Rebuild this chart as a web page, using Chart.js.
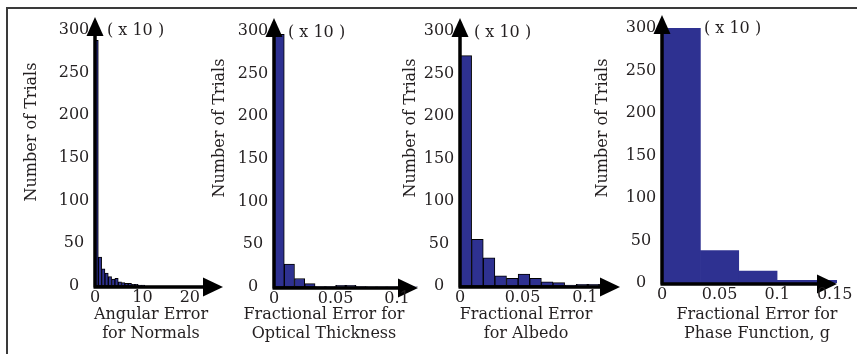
<!DOCTYPE html>
<html><head><meta charset="utf-8">
<script src="https://cdn.jsdelivr.net/npm/chart.js@4/dist/chart.umd.min.js"></script>
<style>
html,body{margin:0;padding:0;background:#fff;}
#wrap{position:relative;width:857px;height:354px;overflow:hidden;background:#fff;}
#wrap canvas{position:absolute;left:0;top:0;}
#frame{position:absolute;left:6px;top:7px;width:860px;height:360px;border-top:2px solid #3a3a3a;border-left:2px solid #3a3a3a;}
</style></head>
<body>
<div id="wrap">
<div id="frame"></div>
<canvas id="c1" width="857" height="354"></canvas>
<canvas id="c2" width="857" height="354"></canvas>
<canvas id="c3" width="857" height="354"></canvas>
<canvas id="c4" width="857" height="354"></canvas>
</div>
<script>
// ---- data ----
const yTickValues = [0, 50, 100, 150, 200, 250, 300];
const yTitle = 'Number of Trials';
const multiplierLabel = '( x 10 )';

const normalsBinCenters = [0.35, 1.05, 1.75, 2.45, 3.15, 3.85, 4.55, 5.25, 5.95, 6.65, 7.35, 8.05, 8.75, 9.45, 10.15];
const normalsCounts     = [288, 34, 20, 15, 11, 8, 9, 5, 4, 3, 3, 2, 2, 1, 1];
const normalsXTicks     = [0, 10, 20];
const normalsTitle      = ['Angular Error', 'for Normals'];

const thicknessBinCenters = [0.0042, 0.0125, 0.0208, 0.0292, 0.0375, 0.0458, 0.0542, 0.0625, 0.0708, 0.0792, 0.0875, 0.0958, 0.1042, 0.1125];
const thicknessCounts     = [296, 27, 10, 4, 0.5, 0.5, 2, 2, 0.5, 0.3, 0.3, 0.3, 0.3, 0.3];
const thicknessXTicks     = [0, 0.05, 0.1];
const thicknessTitle      = ['Fractional Error for', 'Optical Thickness'];

const albedoBinCenters = [0.00465, 0.01395, 0.02325, 0.03255, 0.04185, 0.05115, 0.06045, 0.06975, 0.07905, 0.08835, 0.09765, 0.10695, 0.11625];
const albedoCounts     = [271, 55, 33, 12, 9, 14, 9, 5, 4, 1, 2, 2, 2];
const albedoXTicks     = [0, 0.05, 0.1];
const albedoTitle      = ['Fractional Error', 'for Albedo'];

const phaseBinCenters = [0.0167, 0.05, 0.0833, 0.1167, 0.15];
const phaseCounts     = [300, 38, 14, 3, 3];
const phaseXTicks     = [0, 0.05, 0.1, 0.15];
const phaseTitle      = ['Fractional Error for', 'Phase Function, g'];

// ---- layout / style ----
const W = 857, H = 354;
const FONT = '16px "DejaVu Serif", serif';
const TEXT = '#231f20';
const BAR = 'rgb(46,49,145)';

const panels = [
  { id:'c1', centers:normalsBinCenters, counts:normalsCounts, xTicks:normalsXTicks, title:normalsTitle,
    area:{left:95, right:223, top:30, bottom:286}, xMax:27, border:1,
    yTitleX:32, yTitleY:132, multX:107, multY:31, titleX:151 },
  { id:'c2', centers:thicknessBinCenters, counts:thicknessCounts, xTicks:thicknessXTicks, title:thicknessTitle,
    area:{left:274, right:418, top:31, bottom:287}, xMax:0.117, border:1,
    yTitleX:220, yTitleY:128, multX:288, multY:33, titleX:324 },
  { id:'c3', centers:albedoBinCenters, counts:albedoCounts, xTicks:albedoXTicks, title:albedoTitle,
    area:{left:460, right:620, top:31, bottom:286}, xMax:0.128, border:1,
    yTitleX:411, yTitleY:128, multX:474, multY:33, titleX:526 },
  { id:'c4', centers:phaseBinCenters, counts:phaseCounts, xTicks:phaseXTicks, title:phaseTitle,
    area:{left:662, right:837, top:28, bottom:283}, xMax:0.152, border:0,
    yTitleX:603, yTitleY:128, multX:704, multY:29, titleX:757 }
];

const axesPlugin = {
  id: 'histAxes',
  afterDraw(chart, args, opts) {
    const p = opts.panel;
    const ctx = chart.ctx;
    const xs = chart.scales.x, ys = chart.scales.y;
    const x0 = xs.getPixelForValue(0), y0 = ys.getPixelForValue(0);
    const xEnd = xs.getPixelForValue(xs.max), yTop = ys.getPixelForValue(ys.max);
    ctx.save();
    // axis lines
    ctx.strokeStyle = '#000'; ctx.fillStyle = '#000'; ctx.lineWidth = 3.5;
    ctx.beginPath();
    ctx.moveTo(x0, y0 + 1.5); ctx.lineTo(x0, yTop - 6);
    ctx.moveTo(x0 - 1.5, y0 + 1); ctx.lineTo(xEnd - 12, y0 + 1);
    ctx.stroke();
    // arrowheads
    ctx.beginPath();
    ctx.moveTo(x0, yTop - 13); ctx.lineTo(x0 - 8.5, yTop + 6); ctx.lineTo(x0 + 8.5, yTop + 6); ctx.closePath();
    ctx.fill();
    ctx.beginPath();
    ctx.moveTo(xEnd, y0 + 1); ctx.lineTo(xEnd - 20, y0 + 1 - 9.5); ctx.lineTo(xEnd - 20, y0 + 1 + 9.5); ctx.closePath();
    ctx.fill();
    // texts
    ctx.fillStyle = TEXT; ctx.font = FONT;
    ctx.textAlign = 'center'; ctx.textBaseline = 'middle';
    yTickValues.forEach(v => ctx.fillText(String(v), x0 - 21, ys.getPixelForValue(v)));
    p.xTicks.forEach(v => ctx.fillText(String(v), xs.getPixelForValue(v), y0 + 12));
    ctx.fillText(p.title[0], p.titleX, 315);
    ctx.fillText(p.title[1], p.titleX, 334);
    ctx.textAlign = 'left';
    ctx.fillText(multiplierLabel, p.multX, p.multY);
    ctx.translate(p.yTitleX, p.yTitleY);
    ctx.rotate(-Math.PI / 2);
    ctx.textAlign = 'center';
    ctx.fillText(yTitle, 0, 0);
    ctx.restore();
  }
};

panels.forEach(p => {
  const a = p.area;
  new Chart(document.getElementById(p.id), {
    type: 'bar',
    data: {
      datasets: [{
        data: p.centers.map((c, i) => ({x: c, y: p.counts[i]})),
        backgroundColor: BAR,
        borderColor: '#000',
        borderWidth: p.border,
        barPercentage: 1,
        categoryPercentage: 1,
        borderSkipped: false
      }]
    },
    options: {
      responsive: false,
      animation: false,
      devicePixelRatio: 1,
      events: [],
      layout: { padding: { left: a.left, right: W - a.right, top: a.top, bottom: H - a.bottom } },
      plugins: { legend: { display: false }, tooltip: { enabled: false }, histAxes: { panel: p } },
      scales: {
        x: { type: 'linear', min: 0, max: p.xMax, offset: false, display: false,
             afterBuildTicks: s => { s.ticks = p.xTicks.map(v => ({value: v})); } },
        y: { type: 'linear', min: 0, max: 300, display: false,
             afterBuildTicks: s => { s.ticks = yTickValues.map(v => ({value: v})); } }
      }
    },
    plugins: [axesPlugin]
  });
});
</script>
</body></html>
